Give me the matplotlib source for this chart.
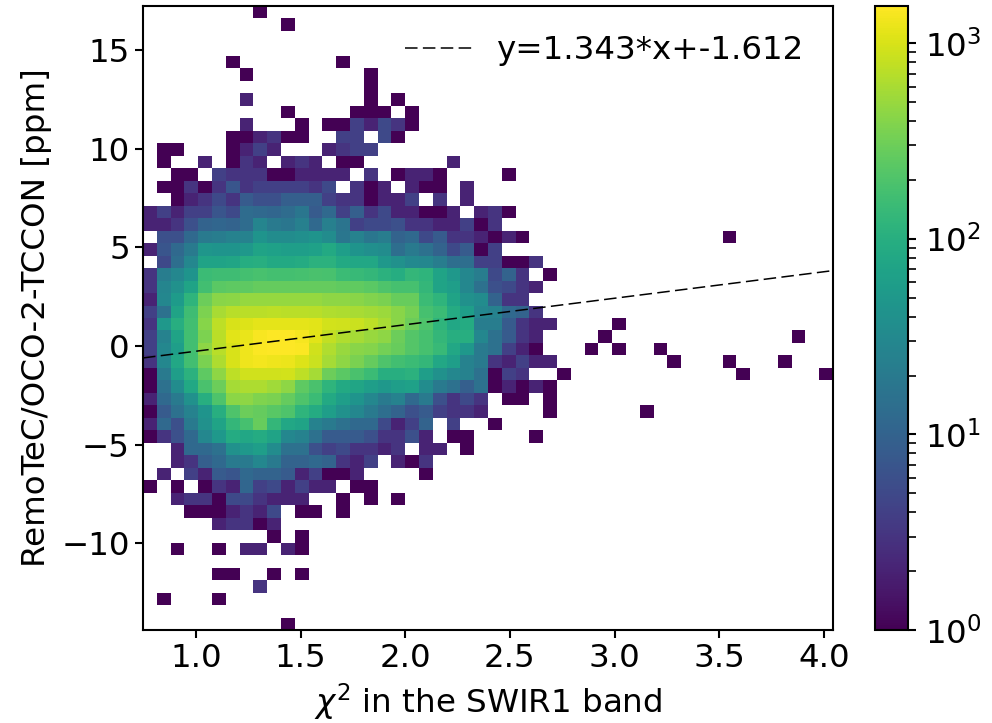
import numpy as np
import matplotlib
matplotlib.use('Agg')
import matplotlib.pyplot as plt
from matplotlib.colors import LogNorm

# counts per bin, top row first, trailing empty bins left out
counts = [
    [0, 0, 0, 0, 0, 0, 0, 0, 1],
    [0, 0, 0, 0, 0, 0, 0, 0, 0, 0, 1],
    [],
    [],
    [0, 0, 0, 0, 0, 0, 1, 0, 0, 0, 0, 0, 0, 0, 1],
    [0, 0, 0, 0, 0, 0, 0, 1, 0, 0, 0, 0, 0, 0, 0, 0, 1],
    [0, 0, 0, 0, 0, 0, 0, 0, 0, 0, 0, 0, 0, 0, 0, 0, 1],
    [0, 0, 0, 0, 0, 0, 0, 2, 0, 0, 0, 0, 0, 0, 0, 0, 1, 0, 1],
    [0, 0, 0, 0, 0, 0, 0, 0, 0, 0, 1, 0, 0, 0, 0, 1, 1, 1, 0, 1],
    [0, 0, 0, 0, 0, 0, 0, 2, 0, 0, 0, 1, 0, 1, 1, 4, 2, 5, 3, 1],
    [0, 0, 0, 0, 0, 0, 1, 1, 2, 3, 1, 1, 0, 0, 4, 4, 0, 5, 1],
    [0, 1, 1, 0, 0, 0, 1, 2, 4, 2, 0, 0, 0, 2, 3, 4, 4],
    [0, 1, 0, 0, 2, 0, 1, 3, 2, 0, 2, 3, 2, 0, 1, 1, 0, 0, 0, 0, 0, 0, 2],
    [0, 0, 1, 1, 0, 4, 3, 3, 3, 1, 1, 2, 2, 2, 2, 0, 3, 0, 1, 2, 2, 1, 0, 0, 0, 0, 1],
    [0, 1, 1, 3, 1, 3, 7, 3, 4, 4, 4, 4, 3, 5, 0, 3, 1, 2, 0, 2, 1, 1, 0, 2],
    [0, 0, 1, 2, 3, 5, 3, 8, 6, 6, 9, 9, 9, 4, 3, 3, 1, 2, 2, 4, 0, 3, 0, 2],
    [2, 4, 2, 4, 4, 7, 5, 13, 12, 11, 13, 18, 8, 12, 4, 9, 3, 5, 2, 2, 1, 1, 2, 0, 2, 3, 1],
    [2, 2, 3, 6, 10, 11, 10, 13, 28, 20, 18, 24, 12, 24, 17, 4, 5, 5, 6, 3, 3, 2, 2, 4, 1, 3],
    [0, 6, 6, 12, 20, 22, 26, 26, 45, 35, 35, 38, 45, 35, 18, 25, 18, 22, 10, 12, 5, 8, 3, 3, 2, 1, 2, 1],
    [2, 7, 12, 20, 48, 45, 45, 50, 70, 65, 60, 60, 65, 85, 60, 45, 38, 35, 14, 20, 15, 10, 5, 8, 1, 4],
    [0, 5, 14, 30, 70, 70, 75, 95, 100, 85, 85, 90, 110, 110, 85, 80, 80, 50, 40, 32, 30, 22, 14, 14, 4, 4, 1, 1, 3],
    [3, 22, 30, 45, 150, 160, 160, 175, 185, 175, 175, 180, 190, 185, 150, 140, 130, 110, 95, 130, 120, 70, 50, 30, 22, 5, 10, 3, 0, 1],
    [3, 28, 40, 70, 170, 240, 250, 250, 270, 270, 270, 270, 270, 270, 260, 260, 240, 200, 180, 180, 130, 70, 60, 30, 15, 6, 5, 3, 2],
    [2, 30, 55, 120, 300, 420, 430, 480, 480, 480, 480, 480, 480, 440, 440, 420, 380, 350, 280, 280, 150, 120, 70, 40, 35, 10, 3, 3],
    [4, 15, 70, 160, 360, 600, 700, 720, 720, 740, 720, 720, 700, 650, 620, 600, 560, 520, 420, 330, 180, 150, 90, 60, 30, 25, 12, 10, 3],
    [3, 50, 100, 170, 410, 740, 1000, 1050, 1150, 1150, 1150, 1150, 1100, 950, 900, 850, 740, 600, 420, 300, 200, 120, 80, 90, 22, 22, 8, 3, 2, 2, 0, 0, 0, 0, 1],
    [4, 25, 70, 170, 360, 720, 1100, 1200, 1450, 1550, 1550, 1400, 1100, 800, 650, 580, 500, 450, 300, 220, 180, 130, 100, 100, 30, 15, 8, 3, 2, 0, 0, 0, 0, 1, 0, 0, 0, 0, 0, 0, 0, 0, 0, 0, 0, 0, 0, 1],
    [4, 30, 60, 170, 450, 700, 1000, 1300, 1500, 1550, 1550, 1500, 900, 650, 500, 420, 400, 320, 280, 220, 180, 140, 80, 50, 20, 15, 4, 2, 1, 0, 0, 0, 1, 0, 1, 0, 0, 1],
    [3, 30, 80, 170, 350, 620, 1000, 1300, 1350, 1300, 1250, 1050, 850, 580, 450, 350, 270, 200, 170, 150, 130, 80, 60, 25, 20, 3, 2, 4, 2, 2, 0, 0, 0, 0, 0, 0, 0, 0, 1, 0, 0, 0, 1, 0, 0, 0, 1],
    [1, 20, 60, 110, 250, 450, 750, 900, 900, 900, 950, 740, 580, 300, 240, 190, 150, 100, 100, 110, 60, 40, 30, 25, 15, 1, 4, 3, 0, 0, 1, 0, 0, 0, 0, 0, 0, 0, 0, 0, 0, 0, 0, 1, 0, 0, 0, 0, 0, 1],
    [1, 15, 35, 82, 190, 300, 580, 620, 620, 550, 450, 250, 190, 120, 85, 75, 60, 50, 60, 65, 35, 20, 15, 9, 15, 1, 2, 1, 2, 1],
    [2, 12, 20, 40, 100, 200, 430, 450, 370, 350, 270, 200, 150, 85, 60, 45, 30, 20, 25, 12, 20, 6, 3, 5, 3, 0, 1, 1, 0, 1],
    [1, 8, 15, 25, 45, 100, 200, 300, 270, 230, 200, 120, 90, 60, 40, 30, 20, 14, 10, 6, 8, 4, 3, 3, 2, 0, 0, 0, 0, 1, 0, 0, 0, 0, 0, 0, 1],
    [2, 12, 6, 20, 40, 70, 130, 180, 280, 130, 80, 70, 25, 20, 15, 12, 12, 5, 2, 4, 10, 0, 4, 0, 0, 1],
    [1, 3, 6, 12, 30, 50, 90, 80, 90, 70, 30, 25, 15, 8, 8, 8, 6, 3, 3, 6, 2, 0, 1, 1, 0, 0, 0, 0, 1],
    [0, 0, 2, 12, 12, 15, 40, 50, 60, 35, 15, 15, 6, 4, 5, 3, 3, 2, 3, 0, 2, 2, 0, 1],
    [0, 0, 2, 3, 9, 12, 20, 20, 30, 20, 10, 10, 12, 10, 3, 2, 4, 0, 2, 1, 3],
    [0, 2, 0, 4, 2, 8, 7, 12, 10, 10, 8, 2, 4, 1, 1, 2, 0, 0, 0, 0, 1],
    [1, 0, 1, 0, 1, 3, 2, 11, 4, 5, 2, 4, 2, 2, 0, 1, 1],
    [0, 0, 2, 3, 3, 1, 5, 5, 3, 2, 2, 2, 0, 0, 1, 0, 1, 0, 1],
    [0, 0, 0, 1, 1, 1, 2, 3, 2, 5, 0, 1, 1, 0, 1],
    [0, 0, 0, 0, 0, 2, 3, 3, 1, 2],
    [0, 0, 0, 0, 0, 0, 0, 0, 0, 1, 0, 1],
    [0, 0, 1, 0, 0, 1, 0, 2, 2, 0, 2, 1],
    [],
    [0, 0, 0, 0, 0, 1, 1, 0, 0, 1, 0, 1],
    [0, 0, 0, 0, 0, 0, 0, 0, 3],
    [0, 1, 0, 0, 0, 1],
    [],
    [0, 0, 0, 0, 0, 0, 0, 0, 0, 0, 1],
]
# the picture also has one bin in row 18 far to the right of the cloud
extra_bins = [(18, 42, 1)]

x_range = [0.747, 4.043]
y_range = [-14.4, 17.23]
slope = 1.343
intercept = -1.612
n_bins = 50
font_size = 23.4

grid = np.zeros((n_bins, n_bins))
for j, row in enumerate(counts):
    grid[j, :len(row)] = row
for j, i, v in extra_bins:
    grid[j, i] = v
# pcolormesh wants the lowest y first
grid = np.ma.masked_equal(grid[::-1], 0)

xedges = np.linspace(x_range[0], x_range[1], n_bins + 1)
yedges = np.linspace(y_range[0], y_range[1], n_bins + 1)

fig = plt.figure(figsize=(9.92, 7.23), dpi=100)
ax = fig.add_axes([143 / 992, 1 - 630 / 723, 690 / 992, 624 / 723])
cax = fig.add_axes([875 / 992, 1 - 630 / 723, 33 / 992, 624 / 723])

mesh = ax.pcolormesh(xedges, yedges, grid, cmap='viridis', norm=LogNorm(vmin=1, vmax=1550))

line_x = np.array(x_range)
ax.plot(line_x, slope * line_x + intercept, color='k', linewidth=1.1, dashes=(8.2, 3.5),
        label=f'y={slope}*x+{intercept}')

ax.set_xlim(x_range)
ax.set_ylim(y_range)
ax.set_xticks([1.0, 1.5, 2.0, 2.5, 3.0, 3.5, 4.0])
ax.set_yticks([-10, -5, 0, 5, 10, 15])
ax.tick_params(labelsize=font_size, width=1.5, length=6)
ax.set_xlabel(r'$\chi^2$ in the SWIR1 band', fontsize=font_size, labelpad=5)
ax.set_ylabel('RemoTeC/OCO-2-TCCON [ppm]', fontsize=font_size, labelpad=7)
ax.legend(loc='upper right', frameon=False, fontsize=font_size, handlelength=2.15,
          handletextpad=0.68)
for s in ax.spines.values():
    s.set_linewidth(1.5)

cbar = fig.colorbar(mesh, cax=cax)
cbar.ax.tick_params(labelsize=font_size, width=1.5, length=6, pad=6)
cbar.ax.tick_params(which='minor', width=1.2, length=5.5)
cbar.outline.set_linewidth(1.5)

plt.savefig('out.png', dpi=100)
